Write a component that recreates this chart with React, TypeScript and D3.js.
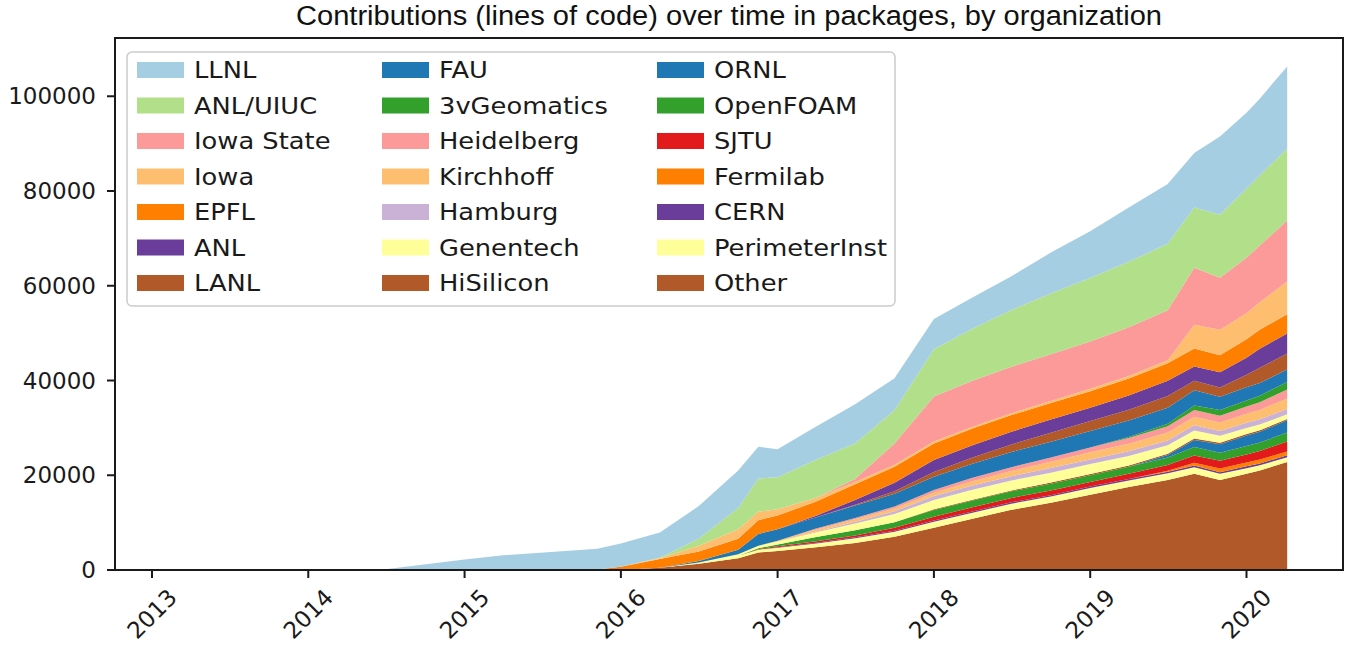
import React from "react";
import * as d3 from "d3";

// ---- data ----
const dates = [
  "2013-02-14", "2014-06-15", "2015-01-01", "2015-04-01", "2015-11-07", "2016-01-01",
  "2016-04-01", "2016-07-01", "2016-10-01", "2016-11-17", "2017-01-01", "2017-04-01",
  "2017-07-01", "2017-10-01", "2018-01-01", "2018-04-01", "2018-07-01", "2018-10-01",
  "2019-01-01", "2019-04-01", "2019-07-01", "2019-09-01", "2019-10-31", "2020-01-01",
  "2020-02-01", "2020-04-05",
];

const other = [0,0,0,0,0,0,500,1300,2500,3700,4000,4800,5700,7000,8900,10800,12700,14200,15900,17500,19000,20300,19000,20300,21000,22800];
const perimeterInst = [0,0,0,0,0,0,0,300,500,600,700,800,1000,1100,1300,1300,1300,1300,1400,1400,1400,1400,1300,1200,1100,1000];
const cern = [0,0,0,0,0,0,0,0,0,0,100,150,200,200,250,250,300,300,300,300,350,350,350,400,400,400];
const fermilab = [0,0,0,0,0,0,0,0,0,0,0,0,0,0,0,0,0,0,0,0,200,600,800,800,800,800];
const sjtu = [0,0,0,0,0,0,0,0,0,100,200,300,400,600,800,900,900,1000,1000,1100,1200,1500,1600,1700,1800,2100];
const openFoam = [0,0,0,0,0,0,0,0,0,200,400,900,1100,1200,1400,1400,1400,1400,1400,1500,1600,1800,1700,1800,1800,1900];
const ornl = [0,0,0,0,0,0,0,0,0,0,0,0,0,0,0,0,0,0,0,0,500,1500,1800,2200,2300,2600];
const hiSilicon = [0,0,0,0,0,0,0,0,0,0,0,0,0,0,150,200,200,250,250,250,300,300,300,300,300,300];
const genentech = [0,0,0,0,0,0,0,0,300,500,600,1000,1400,1700,2000,2100,2100,2100,2100,2000,1800,1700,1500,1300,1200,1000];
const hamburg = [0,0,0,0,0,0,0,0,0,0,0,200,400,600,800,900,900,1000,1000,1000,1000,1100,1000,1100,1100,1100];
const kirchhoff = [0,0,0,0,0,0,0,0,0,0,200,400,500,600,700,900,1100,1300,1500,1600,1700,1800,1800,1900,2000,2200];
const heidelberg = [0,0,0,0,0,0,0,0,0,0,0,200,300,400,600,700,800,900,1000,1200,1300,1400,1400,1500,1600,1900];
const geomatics3v = [0,0,0,0,0,0,0,0,0,0,0,0,0,0,0,0,0,0,0,200,500,1000,1200,1300,1400,1600];
const fau = [0,0,0,0,0,0,0,300,1000,2500,2400,2400,2600,2700,2800,3000,3200,3300,3500,3500,3400,3200,2800,2800,2700,2600];
const lanl = [0,0,0,0,0,0,0,0,0,0,0,0,200,500,1000,1300,1600,1900,2100,2300,2500,2000,2000,2600,3200,3400];
const anl = [0,0,0,0,0,0,0,0,0,0,0,300,1000,1800,2500,2600,2700,2800,2800,3000,3200,3000,3200,3600,4000,4200];
const epfl = [0,0,0,0,100,700,1800,2000,2300,2900,2900,3000,3300,3400,3500,3500,3500,3500,3500,3600,3700,3800,3600,3900,4000,4100];
const iowa = [0,0,0,0,0,0,200,1200,2000,1800,1300,800,500,400,400,400,400,400,500,500,600,5000,5350,5500,5800,6900];
const iowaState = [0,0,0,0,0,0,0,0,0,0,0,0,600,4500,9500,9700,9800,9900,10000,10300,10600,12050,11000,11700,12000,12900];
const anlUiuc = [0,0,0,0,0,0,100,1500,4500,7000,6800,8000,7500,7000,10000,11000,12000,12800,13400,13800,14000,12700,13300,14600,14800,15100];
const llnl = [0,0,2200,3100,4400,4900,5300,6900,7900,6700,5900,7050,8300,6800,6400,6550,7100,8650,9850,11450,12650,11500,16500,16000,16200,17400];

// stacking order, bottom to top
const seriesNames = [
  "Other", "PerimeterInst", "CERN", "Fermilab", "SJTU", "OpenFOAM", "ORNL",
  "HiSilicon", "Genentech", "Hamburg", "Kirchhoff", "Heidelberg", "3vGeomatics",
  "FAU", "LANL", "ANL", "EPFL", "Iowa", "Iowa State", "ANL/UIUC", "LLNL",
];
const seriesValues = [
  other, perimeterInst, cern, fermilab, sjtu, openFoam, ornl,
  hiSilicon, genentech, hamburg, kirchhoff, heidelberg, geomatics3v,
  fau, lanl, anl, epfl, iowa, iowaState, anlUiuc, llnl,
];
const seriesColors = [
  "#b15928", "#ffff99", "#6a3d9a", "#ff7f00", "#e31a1c", "#33a02c", "#1f78b4",
  "#b15928", "#ffff99", "#cab2d6", "#fdbf6f", "#fb9a99", "#33a02c",
  "#1f78b4", "#b15928", "#6a3d9a", "#ff7f00", "#fdbf6f", "#fb9a99", "#b2df8a", "#a6cee3",
];

const yTicks = [0, 20000, 40000, 60000, 80000, 100000];
const xTickYears = [2013, 2014, 2015, 2016, 2017, 2018, 2019, 2020];
const title = "Contributions (lines of code) over time in packages, by organization";

// ---- layout ----
const W = 1345;
const H = 646;
const left = 115;
const right = 1343;
const top = 38;
const bottom = 570;

export default function App() {
  const parsed = dates.map((d) => new Date(d + "T00:00:00"));
  const rows = parsed.map((d, i) => {
    const r: any = { date: d };
    seriesNames.forEach((n, k) => (r[n] = seriesValues[k][i]));
    return r;
  });
  const stack = d3.stack().keys(seriesNames);
  const layers = stack(rows);

  const t0 = +parsed[0];
  const t1 = +parsed[parsed.length - 1];
  const pad = (t1 - t0) * 0.05;
  const x = d3.scaleTime().domain([new Date(t0 - pad), new Date(t1 + pad)]).range([left, right]);
  const y = d3.scaleLinear().domain([0, 112300]).range([bottom, top]);

  const area = d3
    .area<any>()
    .x((d) => x(d.data.date))
    .y0((d) => y(d[0]))
    .y1((d) => y(d[1]))
    .curve(d3.curveLinear);

  // legend: reversed order, 3 columns of 7
  const legendOrder = seriesNames.map((_, i) => seriesNames.length - 1 - i);
  const colSwatchX = [137, 382, 657];
  const rowY0 = 70;
  const rowStep = 35.5;

  const font = "DejaVu Sans, sans-serif";

  return (
    <svg
      width={W}
      height={H}
      style={{ position: "absolute", left: 0, top: 0, background: "#fff" }}
    >
      <rect x={0} y={0} width={W} height={H} fill="#fff" />
      <text
        x={729}
        y={25}
        textAnchor="middle"
        fontFamily="Liberation Sans Narrow, Liberation Sans, Arial, sans-serif"
        fontSize={27}
        textLength={866}
        lengthAdjust="spacingAndGlyphs"
        fill="#111"
      >
        {title}
      </text>

      <g>
        {layers.map((layer, k) => (
          <path key={seriesNames[k]} d={area(layer as any) || ""} fill={seriesColors[k]} />
        ))}
      </g>

      {/* spines */}
      <rect
        x={left}
        y={top}
        width={right - left}
        height={bottom - top}
        fill="none"
        stroke="#1a1a1a"
        strokeWidth={2}
      />

      {/* y ticks */}
      {yTicks.map((v) => (
        <g key={v}>
          <line x1={left - 8} x2={left} y1={y(v)} y2={y(v)} stroke="#1a1a1a" strokeWidth={2} />
          <text
            x={96}
            y={y(v)}
            textAnchor="end"
            dominantBaseline="central"
            fontFamily={font}
            fontSize={23}
            fill="#1a1a1a"
          >
            {v}
          </text>
        </g>
      ))}

      {/* x ticks */}
      {xTickYears.map((yr) => {
        const px = x(new Date(`${yr}-01-01T00:00:00`));
        return (
          <g key={yr}>
            <line x1={px} x2={px} y1={bottom} y2={bottom + 8} stroke="#1a1a1a" strokeWidth={2} />
            <text
              transform={`translate(${px},${614}) rotate(-45)`}
              textAnchor="middle"
              dominantBaseline="central"
              fontFamily={font}
              fontSize={23}
              fill="#1a1a1a"
            >
              {yr}
            </text>
          </g>
        );
      })}

      {/* legend */}
      <rect
        x={127}
        y={52}
        width={768}
        height={254}
        rx={5}
        fill="#fff"
        fillOpacity={0.8}
        stroke="#cccccc"
        strokeWidth={1.5}
      />
      {legendOrder.map((k, i) => {
        const col = Math.floor(i / 7);
        const row = i % 7;
        const sx = colSwatchX[col];
        const cy = rowY0 + row * rowStep;
        return (
          <g key={seriesNames[k]}>
            <rect x={sx} y={cy - 8} width={47} height={16} fill={seriesColors[k]} />
            <text
              transform={`translate(${sx + 57},${cy}) scale(1.12,1)`}
              dominantBaseline="central"
              fontFamily={font}
              fontSize={23}
              fill="#1a1a1a"
            >
              {seriesNames[k]}
            </text>
          </g>
        );
      })}
    </svg>
  );
}
